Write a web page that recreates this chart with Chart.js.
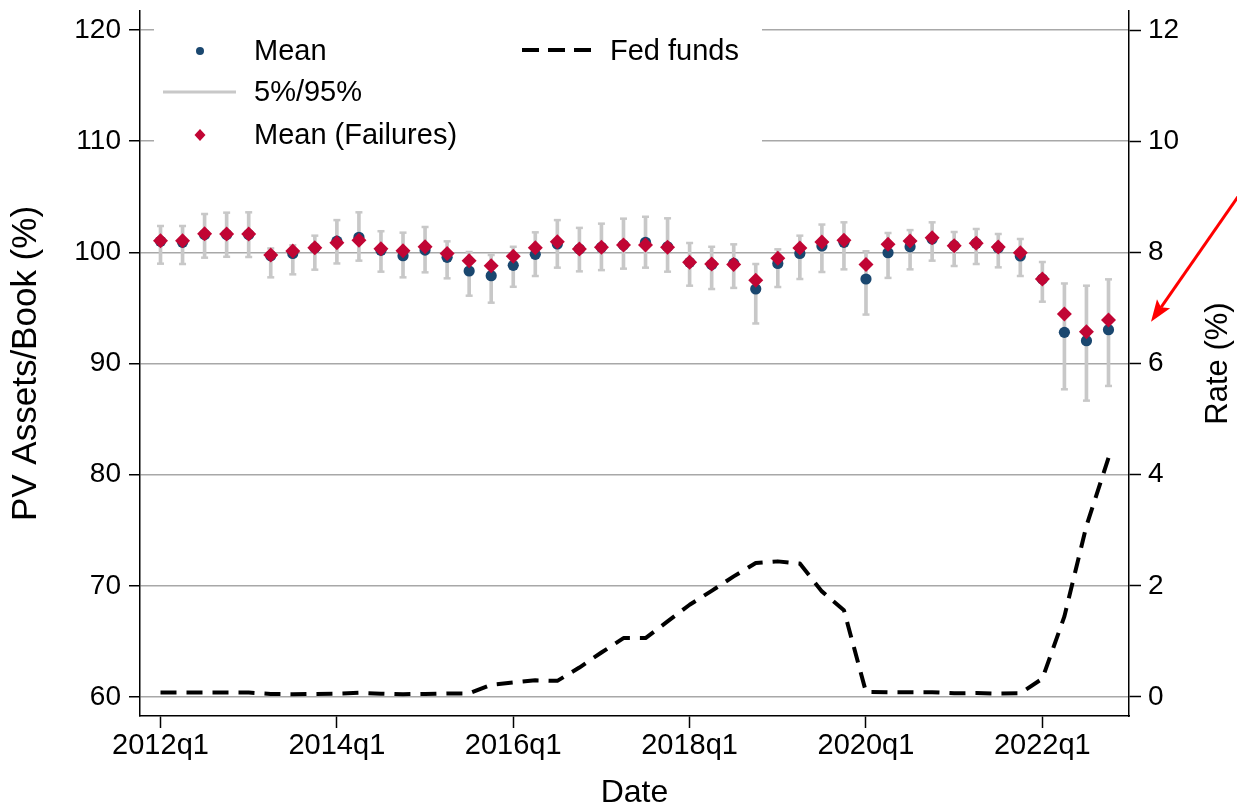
<!DOCTYPE html>
<html>
<head>
<meta charset="utf-8">
<title>PV Assets/Book and Fed funds</title>
<script src="https://cdn.jsdelivr.net/npm/chart.js"></script>
<style>
  html, body { margin: 0; padding: 0; background: #fff; }
  #wrap { width: 1237px; height: 806px; }
</style>
</head>
<body>
<div id="wrap"><canvas id="myChart" width="1237" height="806"></canvas></div>
<script>
    // quarters on the x axis
    var quarters = [
        '2012q1', '2012q2', '2012q3', '2012q4', '2013q1', '2013q2', '2013q3', '2013q4',
        '2014q1', '2014q2', '2014q3', '2014q4', '2015q1', '2015q2', '2015q3', '2015q4',
        '2016q1', '2016q2', '2016q3', '2016q4', '2017q1', '2017q2', '2017q3', '2017q4',
        '2018q1', '2018q2', '2018q3', '2018q4', '2019q1', '2019q2', '2019q3', '2019q4',
        '2020q1', '2020q2', '2020q3', '2020q4', '2021q1', '2021q2', '2021q3', '2021q4',
        '2022q1', '2022q2', '2022q3', '2022q4'
    ];
    var xTickLabels = ['2012q1', '2014q1', '2016q1', '2018q1', '2020q1', '2022q1'];
    var leftTicks = [60, 70, 80, 90, 100, 110, 120];
    var rightTicks = [0, 2, 4, 6, 8, 10, 12];

    // PV assets / book (%), all banks
    var meanVals = [
        101.0, 100.9, 101.6, 101.6, 101.6, 99.7, 99.9, 100.4,
        101.0, 101.35, 100.18, 99.7, 100.2, 99.55, 98.32, 97.9,
        98.83, 99.82, 100.75, 100.3, 100.45, 100.66, 100.9, 100.5,
        99.1, 98.9, 99.0, 96.7, 99.0, 99.9, 100.57, 100.9,
        97.6, 99.97, 100.5, 101.2, 100.6, 100.81, 100.42, 99.67,
        97.6, 92.8, 92.05, 93.04
    ];
    // 5th and 95th percentiles
    var p5Vals = [
        98.98, 98.95, 99.52, 99.6, 99.58, 97.75, 98.02, 98.44,
        99.0, 99.25, 98.26, 97.75, 98.2, 97.66, 96.1, 95.47,
        96.9, 97.87, 98.62, 98.29, 98.4, 98.53, 98.62, 98.26,
        97.0, 96.7, 96.8, 93.6, 96.88, 97.6, 98.23, 98.47,
        94.4, 97.7, 98.47, 99.25, 98.77, 98.95, 98.65, 97.87,
        95.56, 87.68, 86.66, 87.98
    ];
    var p95Vals = [
        102.37, 102.37, 103.45, 103.57, 103.6, 100.35, 100.63, 101.5,
        102.9, 103.6, 101.9, 101.77, 102.28, 100.99, 100.03, 99.76,
        100.5, 101.8, 102.9, 102.2, 102.58, 103.03, 103.2, 103.06,
        100.84, 100.5, 100.72, 98.95, 100.27, 101.5, 102.5, 102.7,
        100.1, 101.74, 102.0, 102.7, 101.83, 102.1, 101.65, 101.2,
        99.13, 97.2, 97.0, 97.57
    ];
    // mean of banks that later failed
    var failVals = [
        101.05, 101.05, 101.68, 101.65, 101.65, 99.76, 100.12, 100.42,
        100.87, 101.08, 100.33, 100.15, 100.5, 99.9, 99.25, 98.8,
        99.64, 100.42, 100.96, 100.3, 100.45, 100.66, 100.66, 100.45,
        99.1, 98.95, 98.9, 97.5, 99.46, 100.39, 100.93, 101.08,
        98.9, 100.73, 101.03, 101.32, 100.6, 100.81, 100.48, 99.97,
        97.6, 94.45, 92.86, 93.91
    ];
    // Fed funds rate (%), right axis
    var fedFunds = [
        0.08, 0.08, 0.08, 0.08, 0.08, 0.055, 0.05, 0.055,
        0.06, 0.075, 0.06, 0.05, 0.055, 0.065, 0.065, 0.22,
        0.26, 0.30, 0.29, 0.53, 0.80, 1.06, 1.06, 1.36,
        1.66, 1.91, 2.17, 2.41, 2.44, 2.40, 1.90, 1.56,
        0.09, 0.085, 0.085, 0.085, 0.066, 0.072, 0.06, 0.066,
        0.33, 1.45, 3.08, 4.3
    ];
    var arrowRate = 6.75; // where the red arrow points on the right axis

    var FONT = "'Liberation Sans', Arial, Helvetica, sans-serif";
    var BLUE = '#1a476f';
    var RED = '#c10534';
    var BAR_GRAY = '#c8c8c8';

    Chart.defaults.font.family = FONT;
    Chart.defaults.color = '#000';

    function pts(vals) {
        return vals.map(function (v, i) { return { x: i, y: v }; });
    }

    var xTickPos = xTickLabels.map(function (l) { return quarters.indexOf(l); });

    // legend drawn like the stata one, white box over the grid
    var legendPlugin = {
        id: 'stataLegend',
        beforeDatasetsDraw: function (chart) {
            var ctx = chart.ctx;
            var top = chart.chartArea.top;
            ctx.save();
            ctx.fillStyle = '#fff';
            ctx.fillRect(154, top + 1, 608, 152);

            ctx.font = '29px ' + FONT;
            ctx.fillStyle = '#000';
            ctx.textBaseline = 'middle';
            ctx.textAlign = 'left';

            // Mean
            ctx.fillStyle = BLUE;
            ctx.beginPath();
            ctx.arc(200, 51, 4, 0, Math.PI * 2);
            ctx.fill();
            ctx.fillStyle = '#000';
            ctx.fillText('Mean', 254, 52);

            // 5%/95%
            ctx.strokeStyle = BAR_GRAY;
            ctx.lineWidth = 3;
            ctx.beginPath();
            ctx.moveTo(163, 92);
            ctx.lineTo(236, 92);
            ctx.stroke();
            ctx.fillText('5%/95%', 254, 93);

            // Mean (Failures)
            ctx.fillStyle = RED;
            ctx.beginPath();
            ctx.moveTo(200, 129);
            ctx.lineTo(205.5, 135);
            ctx.lineTo(200, 141);
            ctx.lineTo(194.5, 135);
            ctx.closePath();
            ctx.fill();
            ctx.fillStyle = '#000';
            ctx.fillText('Mean (Failures)', 254, 136);

            // Fed funds
            ctx.strokeStyle = '#000';
            ctx.lineWidth = 4;
            ctx.setLineDash([17, 9]);
            ctx.beginPath();
            ctx.moveTo(522, 50);
            ctx.lineTo(596, 50);
            ctx.stroke();
            ctx.setLineDash([]);
            ctx.fillText('Fed funds', 610, 52);
            ctx.restore();
        }
    };

    // right axis title reads bottom to top, plus the red arrow
    var extrasPlugin = {
        id: 'extras',
        afterDraw: function (chart) {
            var ctx = chart.ctx;
            var y1 = chart.scales.y1;
            var area = chart.chartArea;
            ctx.save();
            ctx.font = '31px ' + FONT;
            ctx.fillStyle = '#000';
            ctx.textAlign = 'center';
            ctx.textBaseline = 'middle';
            ctx.translate(y1.right - 19, (area.top + area.bottom) / 2);
            ctx.rotate(-Math.PI / 2);
            ctx.fillText('Rate (%)', 0, 0);
            ctx.restore();

            // arrow
            var tipX = y1.left + 22;
            var tipY = y1.getPixelForValue(arrowRate);
            var startX = 1240, startY = tipY - 128;
            var ang = Math.atan2(tipY - startY, tipX - startX);
            var headLen = 22, headW = 8;
            var bx = tipX - Math.cos(ang) * headLen * 0.8;
            var by = tipY - Math.sin(ang) * headLen * 0.8;
            ctx.save();
            ctx.strokeStyle = '#ff0000';
            ctx.fillStyle = '#ff0000';
            ctx.lineWidth = 3;
            ctx.beginPath();
            ctx.moveTo(startX, startY);
            ctx.lineTo(bx, by);
            ctx.stroke();
            var hx = tipX - Math.cos(ang) * headLen;
            var hy = tipY - Math.sin(ang) * headLen;
            ctx.beginPath();
            ctx.moveTo(tipX, tipY);
            ctx.lineTo(hx - Math.sin(ang) * headW, hy + Math.cos(ang) * headW);
            ctx.lineTo(bx, by);
            ctx.lineTo(hx + Math.sin(ang) * headW, hy - Math.cos(ang) * headW);
            ctx.closePath();
            ctx.fill();
            ctx.restore();
        }
    };

    var ctx = document.getElementById('myChart').getContext('2d');
    var myChart = new Chart(ctx, {
        type: 'scatter',
        data: {
            datasets: [
                {
                    type: 'line',
                    label: 'Fed funds',
                    data: pts(fedFunds),
                    yAxisID: 'y1',
                    borderColor: '#000',
                    borderWidth: 4,
                    borderDash: [16, 10],
                    borderJoinStyle: 'round',
                    pointRadius: 0,
                    fill: false,
                    tension: 0,
                    order: 0
                },
                {
                    label: 'Mean (Failures)',
                    data: pts(failVals),
                    yAxisID: 'y',
                    pointStyle: 'rectRot',
                    pointRadius: 7.5,
                    pointBackgroundColor: RED,
                    pointBorderWidth: 0,
                    order: 1
                },
                {
                    label: 'Mean',
                    data: pts(meanVals),
                    yAxisID: 'y',
                    pointStyle: 'circle',
                    pointRadius: 5.6,
                    pointBackgroundColor: BLUE,
                    pointBorderWidth: 0,
                    order: 2
                },
                {
                    label: 'cap low',
                    data: pts(p5Vals),
                    yAxisID: 'y',
                    pointStyle: 'line',
                    pointRadius: 3.5,
                    pointBorderColor: BAR_GRAY,
                    pointBorderWidth: 2.5,
                    order: 3
                },
                {
                    label: 'cap high',
                    data: pts(p95Vals),
                    yAxisID: 'y',
                    pointStyle: 'line',
                    pointRadius: 3.5,
                    pointBorderColor: BAR_GRAY,
                    pointBorderWidth: 2.5,
                    order: 3
                },
                {
                    type: 'bar',
                    label: '5%/95%',
                    data: quarters.map(function (q, i) { return { x: i, y: [p5Vals[i], p95Vals[i]] }; }),
                    yAxisID: 'y',
                    backgroundColor: BAR_GRAY,
                    borderWidth: 0,
                    barThickness: 3,
                    order: 4
                }
            ]
        },
        options: {
            responsive: false,
            animation: false,
            devicePixelRatio: 1,
            events: [],
            layout: { padding: { top: 11, left: 0, right: 0, bottom: 0 } },
            plugins: {
                legend: { display: false },
                tooltip: { enabled: false }
            },
            scales: {
                x: {
                    type: 'linear',
                    position: 'bottom',
                    min: -0.93,
                    max: 43.93,
                    offset: false,
                    afterBuildTicks: function (s) {
                        s.ticks = xTickPos.map(function (v) { return { value: v }; });
                    },
                    afterFit: function (s) {
                        s.height = 90;
                        s.paddingLeft = 0;
                        s.paddingRight = 0;
                    },
                    ticks: {
                        autoSkip: false,
                        maxRotation: 0,
                        padding: 1,
                        font: { size: 29 },
                        callback: function (v) { return quarters[v]; }
                    },
                    grid: {
                        offset: false,
                        drawOnChartArea: false,
                        drawTicks: true,
                        tickLength: 12,
                        tickColor: '#000',
                        tickWidth: 1.5
                    },
                    border: { color: '#000', width: 1.5 },
                    title: {
                        display: true,
                        text: 'Date',
                        font: { size: 32, lineHeight: 1 },
                        padding: { top: 0, bottom: -3 }
                    }
                },
                y: {
                    type: 'linear',
                    position: 'left',
                    min: 58.29,
                    max: 121.71,
                    afterBuildTicks: function (s) {
                        s.ticks = leftTicks.map(function (v) { return { value: v }; });
                    },
                    afterFit: function (s) {
                        s.width = 140;
                        s.paddingTop = 0;
                        s.paddingBottom = 0;
                    },
                    ticks: { padding: 8, font: { size: 28 } },
                    grid: {
                        color: '#a8a8a8',
                        lineWidth: 1.5,
                        drawTicks: true,
                        tickLength: 11,
                        tickColor: '#000',
                        tickWidth: 1.5
                    },
                    border: { color: '#000', width: 1.5 },
                    title: {
                        display: true,
                        text: 'PV Assets/Book (%)',
                        font: { size: 35, lineHeight: 1 },
                        padding: { top: 9, bottom: 0 }
                    }
                },
                y1: {
                    type: 'linear',
                    position: 'right',
                    min: -0.342,
                    max: 12.342,
                    afterBuildTicks: function (s) {
                        s.ticks = rightTicks.map(function (v) { return { value: v }; });
                    },
                    afterFit: function (s) {
                        s.width = 108;
                        s.paddingTop = 0;
                        s.paddingBottom = 0;
                    },
                    ticks: { padding: 7, font: { size: 28 } },
                    grid: {
                        drawOnChartArea: false,
                        drawTicks: true,
                        tickLength: 12,
                        tickColor: '#000',
                        tickWidth: 1.5
                    },
                    border: { color: '#000', width: 1.5 }
                }
            }
        },
        plugins: [legendPlugin, extrasPlugin]
    });
</script>
</body>
</html>
